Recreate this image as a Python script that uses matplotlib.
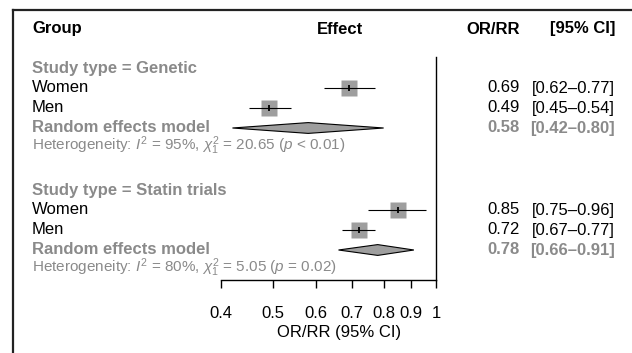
import matplotlib
matplotlib.use('Agg')
import matplotlib.pyplot as plt
from matplotlib.transforms import blended_transform_factory
from matplotlib.patches import Polygon
from matplotlib.lines import Line2D
from matplotlib.ticker import NullLocator

plt.rcParams['font.family'] = ['Liberation Sans', 'DejaVu Sans']
plt.rcParams['mathtext.fontset'] = 'custom'
plt.rcParams['mathtext.rm'] = 'Liberation Sans'
plt.rcParams['mathtext.it'] = 'Liberation Sans:italic'

# data
groups = ['Study type = Genetic', 'Study type = Statin trials']
sub_labels = ['Women', 'Men']
est = [[0.69, 0.49], [0.85, 0.72]]
ci_lo = [[0.62, 0.45], [0.75, 0.67]]
ci_hi = [[0.77, 0.54], [0.96, 0.77]]
re_est = [0.58, 0.78]
re_lo = [0.42, 0.66]
re_hi = [0.80, 0.91]
i2 = [95, 80]
chi2 = [20.65, 5.05]
p_txt = ['< 0.01', '= 0.02']
ticks = [0.4, 0.5, 0.6, 0.7, 0.8, 0.9, 1]
tick_labels = ['0.4', '0.5', '0.6', '0.7', '0.8', '0.9', '1']

# layout (pixels)
W, H = 632, 353
grey_txt = '#8a8a8a'
grey_box = '#9e9e9e'
x0, x1 = 221, 436
ytop, ybot = 57, 280
row0, row_h = 68, 20
fs = 12

fig = plt.figure(figsize=(W / 100, H / 100), dpi=100)
ax = fig.add_axes([x0 / W, 1 - ybot / H, (x1 - x0) / W, (ybot - ytop) / H])
ax.set_xscale('log')
ax.set_xlim(0.4, 1)
ax.set_ylim((ybot - row0) / row_h, (ytop - row0) / row_h)

tr = blended_transform_factory(fig.transFigure, ax.transData)

def txt(xpx, y, s, **kw):
    kw.setdefault('fontsize', fs)
    ax.text(xpx / W, y, s, transform=tr, va='center', **kw)

# header
txt(32, -1.95, 'Group', fontweight='bold')
txt(340, -1.95, 'Effect', fontweight='bold', ha='center')
txt(520, -1.95, 'OR/RR', fontweight='bold', ha='right')
txt(615, -1.95, '[95% CI]', fontweight='bold', ha='right')

bases = [0, 6.1]
for g, base in enumerate(bases):
    txt(32, base, groups[g], fontweight='bold', color=grey_txt)
    for k, lab in enumerate(sub_labels):
        y = base + 1 + k
        txt(32, y, lab)
        ax.plot(est[g][k], y, marker='s', ms=12, color=grey_box, mec='none', zorder=2)
        ax.hlines(y, ci_lo[g][k], ci_hi[g][k], color='k', lw=0.8, zorder=3)
        ax.plot(est[g][k], y, marker='|', ms=5, color='k', mew=1.3, zorder=4)
        txt(520, y, f'{est[g][k]:.2f}', ha='right')
        txt(615, y, f'[{ci_lo[g][k]:.2f}\u2013{ci_hi[g][k]:.2f}]', ha='right')
    y = base + 3
    h = 0.27
    ax.add_patch(Polygon([(re_lo[g], y), (re_est[g], y - h), (re_hi[g], y), (re_est[g], y + h)],
                         closed=True, facecolor=grey_box, edgecolor='k', lw=0.8, zorder=2))
    txt(32, y, 'Random effects model', fontweight='bold', color=grey_txt)
    txt(520, y, f'{re_est[g]:.2f}', ha='right', fontweight='bold', color=grey_txt)
    txt(615, y, f'[{re_lo[g]:.2f}\u2013{re_hi[g]:.2f}]', ha='right', fontweight='bold', color=grey_txt)
    txt(32, base + 3.9,
        f'Heterogeneity: $I^2$ = {i2[g]}%, $\\chi^2_1$ = {chi2[g]:.2f} ($p$ {p_txt[g]})',
        fontsize=11, color=grey_txt)

# axis
ax.axvline(1, color='k', lw=1.0, clip_on=False)
for s in ['top', 'left', 'right']:
    ax.spines[s].set_visible(False)
ax.spines['bottom'].set_linewidth(1.0)
ax.set_xticks(ticks)
ax.set_xticklabels(tick_labels)
ax.xaxis.set_minor_locator(NullLocator())
ax.set_yticks([])
ax.tick_params(axis='x', length=6, width=1, pad=13, labelsize=fs)
ax.set_xlabel('OR/RR (95% CI)', fontsize=fs)
ax.xaxis.set_label_coords((339 - x0) / (x1 - x0), (ybot - 333) / (ybot - ytop))
ax.xaxis.label.set_va('center')
ax.patch.set_visible(False)

# frame of the box
fig.add_artist(Line2D([12.5 / W, 12.5 / W], [0, 1 - 9.5 / H], color='#222222', lw=1.6))
fig.add_artist(Line2D([12.5 / W, 1], [1 - 9.5 / H, 1 - 9.5 / H], color='#222222', lw=1.6))

fig.savefig('out.png', dpi=100)
